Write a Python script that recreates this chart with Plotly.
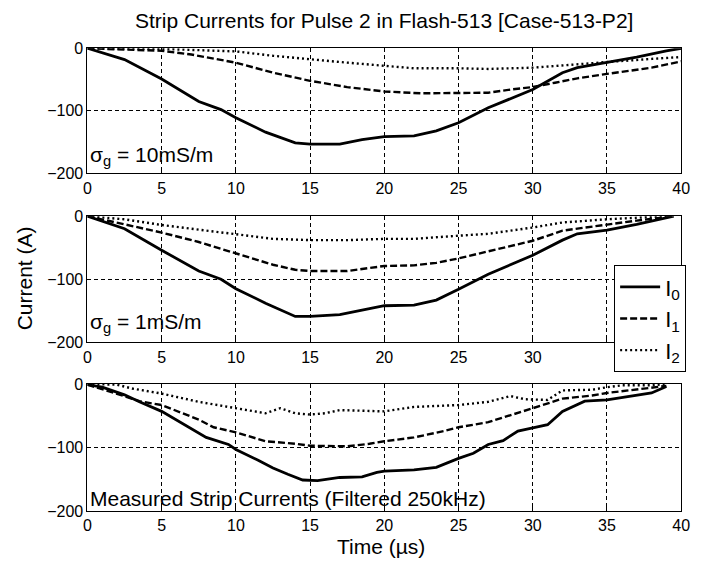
import plotly.graph_objects as go

# ---------------- data ----------------
time_ticks = [0, 5, 10, 15, 20, 25, 30, 35, 40]
current_ticks = [0, -100, -200]

# Panel 1: sigma_g = 10 mS/m
p1_t_i0 = [0, 2.5, 5, 7.5, 9, 10, 12, 14, 15, 17, 18.5, 20, 22, 23.5, 25, 27, 30, 32, 33, 35, 37, 39, 40]
p1_i0 = [0, -18, -49, -85, -98, -111, -134, -151, -153, -153, -146, -141, -140, -132, -119, -95, -66, -39, -31, -23, -14, -4, 0]
p1_t_i1 = [0, 3, 5, 7, 10, 12.5, 15, 17.5, 20, 22.5, 25, 27, 28.5, 30, 31.5, 33, 35, 38, 40]
p1_i1 = [0, -2, -4, -10, -23, -39, -52, -62, -69, -72, -72, -71, -66, -62, -55, -48, -41, -31, -21]
p1_t_i2 = [0, 3, 5, 7.5, 10, 12.5, 15, 17.5, 20, 22, 25, 27, 30, 32, 35, 38, 40]
p1_i2 = [0, 0, -1, -3, -5, -12, -18, -23, -28, -32, -32, -33, -31, -27, -22, -17, -14]

# Panel 2: sigma_g = 1 mS/m
p2_t_i0 = [0, 2.5, 5, 7.5, 9, 10, 12, 14, 15, 17, 18.5, 20, 22, 23.5, 25, 27, 30, 32, 33, 35, 37, 39, 39.5]
p2_i0 = [0, -20, -54, -87, -100, -115, -138, -159, -159, -156, -149, -142, -141, -133, -116, -92, -62, -38, -28, -22, -13, -3, 0]
p2_t_i1 = [0, 2, 5, 7.5, 10, 12.5, 14, 15, 17.5, 19, 20, 22, 23.5, 25, 27, 30, 32, 35, 37, 39.5]
p2_i1 = [0, -10, -26, -41, -59, -77, -85, -87, -87, -82, -79, -78, -74, -67, -56, -39, -23, -13, -7, 0]
p2_t_i2 = [0, 2.5, 5, 7.5, 10, 12.5, 15, 17.5, 20, 22, 25, 27, 30, 32, 35, 37, 39]
p2_i2 = [0, -5, -14, -21, -28, -36, -38, -38, -36, -36, -31, -28, -18, -10, -5, -3, 0]

# Panel 3: measured strip currents (filtered 250 kHz)
p3_t_i0 = [0, 1, 2.5, 3.5, 5, 6.5, 8, 9.5, 10, 11.5, 12.5, 13.5, 14.5, 15.5, 17, 18.5, 19.5, 20, 22, 23.5,
           24.5, 25, 26, 27, 28, 29, 30, 31, 32, 33, 33.5, 35, 36.5, 38, 39]
p3_i0 = [-1, -5, -17, -28, -43, -64, -84, -95, -103, -120, -132, -142, -151, -152, -147, -146, -139, -137, -135, -131,
         -121, -117, -109, -95, -89, -74, -69, -64, -43, -33, -27, -25, -20, -14, -4]
p3_t_i1 = [0, 1, 2.5, 3.5, 5, 7.5, 8.5, 10, 12, 14, 15, 17.5, 19, 20, 22, 24, 25, 27, 28, 30, 32, 34, 35, 37, 39]
p3_i1 = [-1, -8, -19, -27, -33, -56, -68, -76, -90, -94, -97, -98, -94, -90, -84, -74, -68, -60, -53, -38, -23, -18, -14, -9, -3]
p3_t_i2 = [0, 2, 3, 5, 7.5, 10, 12, 13, 14, 15, 16, 17, 19, 20, 22, 25, 27, 28.5, 29.5, 31, 32, 34, 35, 36, 38, 39]
p3_i2 = [0, -1, -7, -15, -28, -38, -46, -38, -46, -48, -46, -41, -42, -43, -36, -33, -28, -19, -24, -25, -10, -9, -5, -2, -2, 0]

series_names = ["I<sub>0</sub>", "I<sub>1</sub>", "I<sub>2</sub>"]
panel_notes = ["σ<sub>g</sub> = 10mS/m", "σ<sub>g</sub> = 1mS/m", "Measured Strip Currents (Filtered 250kHz)"]
title_text = "Strip Currents for Pulse 2 in Flash-513 [Case-513-P2]"
x_title = "Time (µs)"
y_title = "Current (A)"

# ---------------- figure ----------------
W, H = 702, 575
FONT = "Liberation Sans, Arial, sans-serif"

panels = [
    [(p1_t_i0, p1_i0), (p1_t_i1, p1_i1), (p1_t_i2, p1_i2)],
    [(p2_t_i0, p2_i0), (p2_t_i1, p2_i1), (p2_t_i2, p2_i2)],
    [(p3_t_i0, p3_i0), (p3_t_i1, p3_i1), (p3_t_i2, p3_i2)],
]
dashes = ["solid", "7px,3px", "2px,3px"]
widths = [2.8, 2.4, 2.4]

# plot-area pixel boxes (top, bottom)
x_left, x_right = 85, 690
boxes = [(41.5, 170.5), (214.5, 344.5), (387.5, 518.5)]

fig = go.Figure()
layout = dict(
    width=W, height=H,
    margin=dict(l=0, r=0, t=0, b=0),
    paper_bgcolor="white", plot_bgcolor="white",
    font=dict(family=FONT, color="black", size=16),
    showlegend=True,
    legend=dict(
        x=695 / W, y=1 - 265 / H, xanchor="right", yanchor="top",
        bgcolor="white", bordercolor="black", borderwidth=1,
        font=dict(size=22, family=FONT, color="black"),
        tracegroupgap=0, itemwidth=40,
    ),
)

for p, series in enumerate(panels):
    xa = "x" if p == 0 else f"x{p+1}"
    ya = "y" if p == 0 else f"y{p+1}"
    for s, (tt, vv) in enumerate(series):
        fig.add_trace(go.Scatter(
            x=tt, y=vv, mode="lines", xaxis=xa, yaxis=ya,
            name=series_names[s], showlegend=(p == 1),
            line=dict(color="black", width=widths[s], dash=dashes[s]),
        ))
    top, bot = boxes[p]
    axis_common = dict(
        showline=True, linecolor="black", linewidth=1, mirror=True,
        ticks="inside", ticklen=4, tickcolor="black",
        showgrid=True, gridcolor="black", gridwidth=1, griddash="4px,3px",
        zeroline=False, tickfont=dict(size=16, family=FONT, color="black"),
    )
    # in the middle panel the legend box hides the last two time labels
    if p == 1:
        tick_text = [str(v) if v <= 30 else "" for v in time_ticks]
    else:
        tick_text = [str(v) for v in time_ticks]
    layout["xaxis" if p == 0 else f"xaxis{p+1}"] = dict(
        axis_common, domain=[x_left / W, x_right / W], range=[0, 40],
        tickvals=time_ticks, ticktext=tick_text, anchor=ya,
    )
    layout["yaxis" if p == 0 else f"yaxis{p+1}"] = dict(
        axis_common, domain=[1 - bot / H, 1 - top / H], range=[-200, 0],
        tickvals=current_ticks, anchor=xa,
    )

fig.update_layout(**layout)

annotations = [
    dict(text=title_text, x=387.5 / W, y=1 - 13 / H, xref="paper", yref="paper",
         xanchor="center", yanchor="middle", showarrow=False, font=dict(size=21)),
    dict(text=x_title, x=384 / W, y=1 - 555 / H, xref="paper", yref="paper",
         xanchor="center", yanchor="middle", showarrow=False, font=dict(size=21)),
    dict(text=y_title, x=21 / W, y=1 - 279 / H, xref="paper", yref="paper",
         xanchor="center", yanchor="middle", showarrow=False, textangle=-90, font=dict(size=21)),
]
note_y = [152, 325, 505]
for p in range(3):
    annotations.append(dict(
        text=panel_notes[p], x=86 / W, y=1 - note_y[p] / H, xref="paper", yref="paper",
        xanchor="left", yanchor="middle", showarrow=False, font=dict(size=21),
    ))
fig.update_layout(annotations=annotations)

fig.write_html("out.html")
